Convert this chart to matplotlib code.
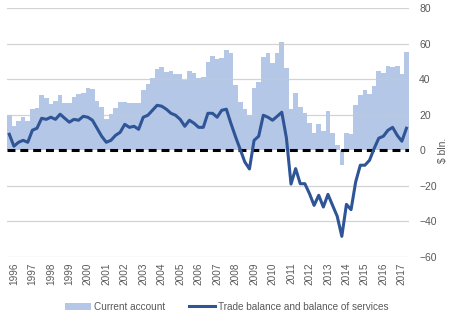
import numpy as np
import matplotlib
matplotlib.use("Agg")
import matplotlib.pyplot as plt
from matplotlib.lines import Line2D
from matplotlib.patches import Patch

plt.rcParams.update({
    "font.family": ["Liberation Sans", "DejaVu Sans"],
    "font.size": 7.2,
})

# Quarterly values, 1996Q1 onwards ($ bln.)
current_account = [
    19.7, 13.5, 16.3, 18.6,
    16.3, 23.0, 23.6, 31.0,
    29.3, 26.0, 28.0, 31.0,
    26.5, 26.5, 29.8, 31.5,
    32.0, 35.0, 34.3, 27.6,
    24.2, 17.4, 20.3, 23.6,
    27.0, 27.0, 26.5, 26.5,
    26.5, 33.8, 37.0, 40.5,
    45.6, 46.7, 43.9, 44.5,
    42.8, 42.8, 39.6, 44.5,
    43.3, 40.5, 41.0, 49.5,
    52.9, 51.2, 51.8, 56.3,
    54.6, 36.6, 27.0, 23.0,
    20.1, 34.9, 38.3, 52.3,
    54.6, 49.1, 54.9, 61.1,
    46.5, 23.0, 32.5, 24.2,
    20.8, 15.2, 9.6, 14.6,
    10.7, 22.1, 9.6, 2.8,
    -8.0, 9.6, 9.0, 25.3,
    31.0, 33.8, 31.7, 36.0,
    44.5, 43.5, 47.3, 46.7,
    47.3, 42.8, 55.2,
]
trade_balance = [
    9.0, 2.3, 4.5, 5.6,
    4.5, 11.3, 12.4, 18.0,
    17.4, 18.6, 17.4, 20.3,
    18.0, 15.8, 17.4, 16.9,
    19.1, 18.6, 16.9, 12.4,
    7.9, 4.5, 5.6, 8.4,
    10.1, 14.6, 12.9, 13.5,
    11.8, 18.6, 19.7, 22.5,
    25.3, 24.8, 23.1, 20.8,
    19.7, 17.4, 13.5, 16.9,
    15.2, 12.9, 12.9, 20.8,
    20.8, 18.6, 22.5, 23.1,
    15.0, 7.5, 0.5, -6.6,
    -10.5, 5.6, 7.9, 19.7,
    18.6, 16.9, 19.1, 21.4,
    7.0, -19.0, -10.3, -18.8,
    -18.8, -24.4, -31.0, -25.3,
    -31.9, -24.8, -31.0, -37.1,
    -48.4, -30.4, -33.4, -17.8,
    -8.4, -8.4, -5.6, 1.0,
    6.8, 7.9, 11.3, 12.9,
    8.4, 5.1, 12.4,
]
years = [str(y) for y in range(1996, 2018)]
y_ticks = [-60, -40, -20, 0, 20, 40, 60, 80]

BAR_COLOR = "#b4c7e7"
LINE_COLOR = "#2f5597"
TEXT_COLOR = "#595959"

x = np.arange(len(current_account))

fig = plt.figure(figsize=(4.54, 3.22), dpi=100)
ax = fig.add_axes([0.0154, 0.202, 0.885, 0.773])

ax.bar(x, current_account, width=1.0, color=BAR_COLOR, zorder=1)
for v in y_ticks:
    if v != 0:
        ax.axhline(v, color="#c8c8c8", lw=0.9, alpha=0.8, zorder=2)
ax.axhline(0, color="black", lw=2.2, ls=(0, (2.6, 1.6)), zorder=3)
ax.plot(x, trade_balance, color=LINE_COLOR, lw=2.2, zorder=4,
        solid_joinstyle="round")

ax.set_xlim(-0.5, len(x) - 0.5)
ax.set_ylim(-60, 80)
ax.yaxis.tick_right()
ax.set_yticks(y_ticks)
ax.tick_params(axis="y", length=0, pad=7.5, colors=TEXT_COLOR, labelsize=7.5)
ax.set_xticks(1 + 4 * np.arange(len(years)))
ax.set_xticklabels(years, rotation=90)
ax.tick_params(axis="x", length=0, pad=4, colors=TEXT_COLOR, labelsize=7.2)
for s in ax.spines.values():
    s.set_visible(False)

ax.text(1.085, 0.43, "$ bln.", transform=ax.transAxes, rotation=90,
        ha="center", va="center", color=TEXT_COLOR, fontsize=7.5)

handles = [Patch(facecolor=BAR_COLOR, edgecolor="none"),
           Line2D([0], [0], color=LINE_COLOR, lw=2.2)]
fig.legend(handles, ["Current account", "Trade balance and balance of services"],
           loc="center", bbox_to_anchor=(0.5, 0.047), ncol=2, frameon=False,
           handlelength=2.6, handletextpad=0.3, columnspacing=2.4,
           labelcolor=TEXT_COLOR, fontsize=7.2)

fig.savefig("out.png", dpi=100, facecolor="white")
